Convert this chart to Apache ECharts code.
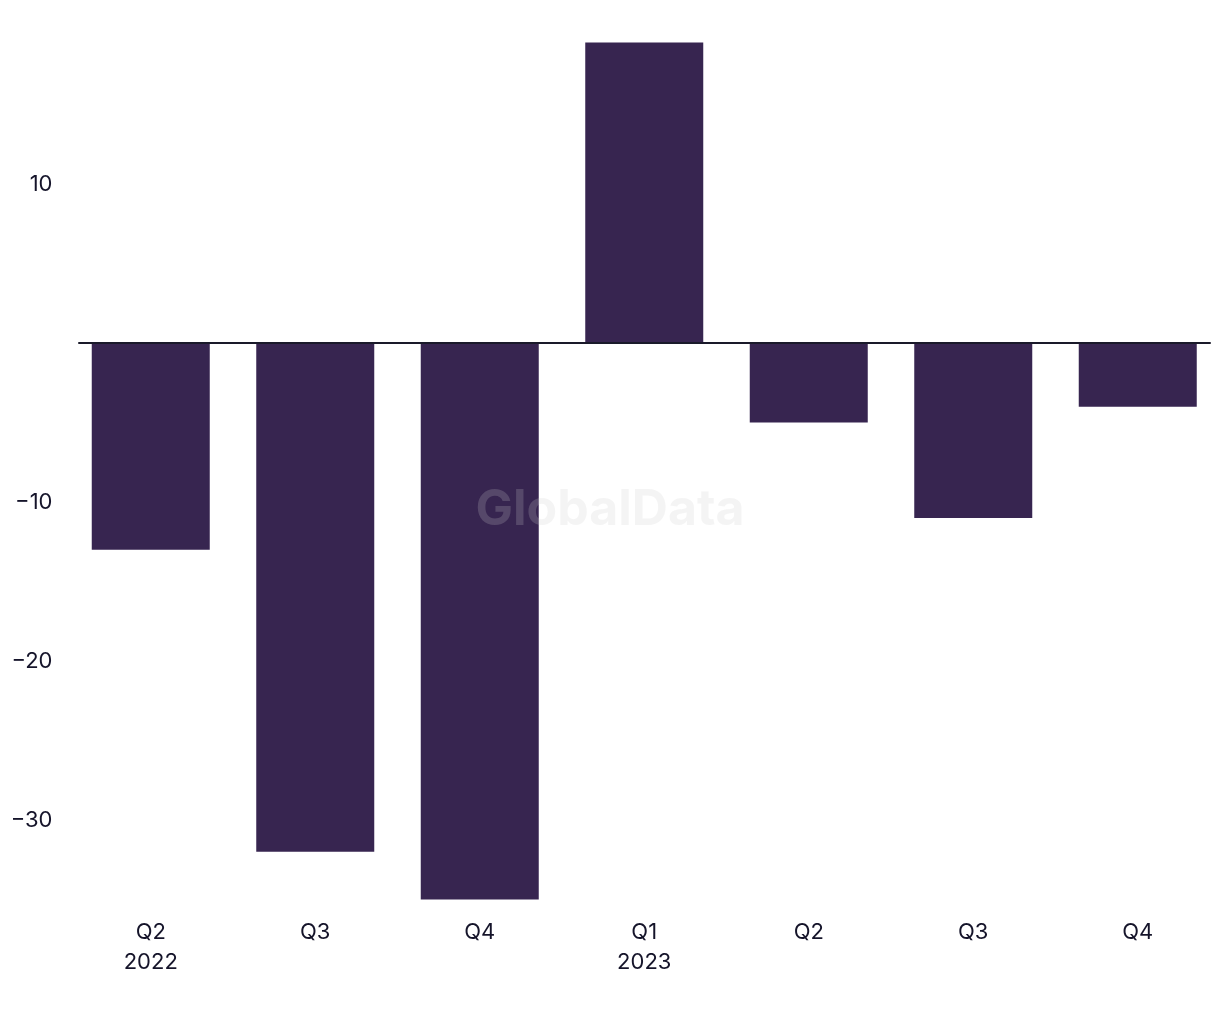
<!DOCTYPE html>
<html>
<head>
<meta charset="utf-8">
<script src="https://cdn.jsdelivr.net/npm/echarts@6/dist/echarts.min.js"></script>
<style>html,body{margin:0;padding:0;background:#fff}#c{width:1220px;height:1020px}</style>
</head>
<body>
<div id="c"></div>
<script>
const categories = ['Q2\n2022', 'Q3', 'Q4', 'Q1\n2023', 'Q2', 'Q3', 'Q4'];
const values = [-13.0, -32.0, -35.0, 18.9, -5.0, -11.0, -4.0];
const yTicks = [10, -10, -20, -30];

const textColor = '#15142a';
const chart = echarts.init(document.getElementById('c'), null, {renderer: 'canvas'});
chart.setOption({
  animation: false,
  backgroundColor: '#fff',
  grid: [
    {left: 68.5, right: -2.8, top: 41, bottom: 120.5},
    {left: 79, right: 10, top: 41, bottom: 120.5}
  ],
  xAxis: [
    {
      type: 'category', gridIndex: 0, data: categories,
      axisLine: {show: false}, axisTick: {show: false},
      axisLabel: {color: textColor, fontSize: 22, lineHeight: 30, margin: 18, fontFamily: 'Inter, sans-serif'}
    },
    {
      type: 'value', gridIndex: 1, min: 0, max: 1, z: 5,
      axisLine: {show: true, onZero: true, onZeroAxisIndex: 1, lineStyle: {color: '#1a1a2a', width: 2}},
      axisTick: {show: false}, axisLabel: {show: false}, splitLine: {show: false}
    }
  ],
  yAxis: [
    {
      type: 'value', gridIndex: 0, min: -35, max: 19,
      axisLine: {show: false}, axisTick: {show: false}, splitLine: {show: false},
      axisLabel: {
        customValues: yTicks, color: textColor, fontSize: 22, margin: 16, fontFamily: 'Inter, sans-serif',
        formatter: v => (v < 0 ? '\u2212' + Math.abs(v) : String(v))
      }
    },
    {
      type: 'value', gridIndex: 1, min: -35, max: 19, show: false
    }
  ],
  graphic: [{
    type: 'text', left: 'center', top: 485, z: 100, silent: true,
    style: {text: 'GlobalData', font: 'bold 50px Inter, sans-serif', fill: 'rgba(205,205,205,0.21)'}
  }],
  series: [{
    type: 'bar', xAxisIndex: 0, yAxisIndex: 0, data: values, barWidth: 118,
    itemStyle: {color: '#372550'}
  }]
});
</script>
</body>
</html>
